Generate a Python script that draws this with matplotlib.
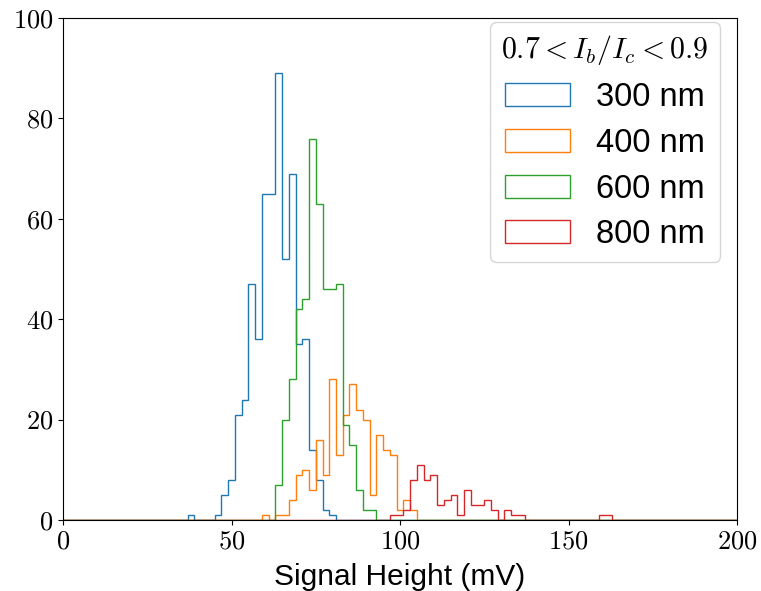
import matplotlib
matplotlib.use('Agg')
import matplotlib.pyplot as plt
import numpy as np

plt.rcParams['mathtext.fontset'] = 'cm'
plt.rcParams['font.family'] = 'cmr10'
plt.rcParams['axes.formatter.use_mathtext'] = True

# 2 mV wide bins, edges on odd values
edges = np.arange(-1, 203, 2)

blue_start = 37
blue_counts = [1, 0, 0, 0, 1, 5, 8, 21, 24, 47, 36, 65, 65, 89, 52, 69, 35, 36, 14, 8, 2, 1]

orange_start = 59
orange_counts = [1, 0, 1, 1, 4, 9, 10, 6, 16, 9, 28, 13, 21, 27, 22, 20, 5, 17, 14, 13, 2, 4, 2]

green_start = 63
green_counts = [7, 20, 28, 42, 44, 76, 63, 46, 46, 47, 19, 15, 6, 2, 2]

red_start = 97
red_counts = [1, 1, 2, 8, 11, 8, 9, 3, 4, 5, 1, 6, 3, 3, 4, 2, 0, 2, 1, 1,
              0, 0, 0, 0, 0, 0, 0, 0, 0, 0, 0, 1, 1]

labels = ['300 nm', '400 nm', '600 nm', '800 nm']
series = [(blue_start, blue_counts), (orange_start, orange_counts),
          (green_start, green_counts), (red_start, red_counts)]


def full_counts(start, counts):
    w = np.zeros(len(edges) - 1)
    i = (start - edges[0]) // 2
    w[i:i + len(counts)] = counts
    return w


centers = (edges[:-1] + edges[1:]) / 2

fig = plt.figure(figsize=(7.61, 5.91), dpi=100)
ax = fig.add_axes([0.0828, 0.1201, 0.8857, 0.8494])

for (start, counts), lab in zip(series, labels):
    ax.hist(centers, bins=edges, weights=full_counts(start, counts),
            histtype='step', label=lab, linewidth=1.0)

ax.set_xlim(0, 200)
ax.set_ylim(0, 100)
ax.set_xticks([0, 50, 100, 150, 200])
ax.set_yticks([0, 20, 40, 60, 80, 100])
ax.tick_params(labelsize=19)

ax.set_xlabel('Signal Height (mV)', fontsize=21.5, family='Liberation Sans', labelpad=7)

leg = ax.legend(title=r'$0.7 < I_b/I_c < 0.9$', loc='upper right',
                bbox_to_anchor=(0.975, 0.992), borderaxespad=0,
                prop={'family': 'Liberation Sans', 'size': 23.5},
                title_fontsize=21.5, labelspacing=0.45, borderpad=0.35,
                framealpha=0.8)

fig.savefig('out.png', dpi=100)
